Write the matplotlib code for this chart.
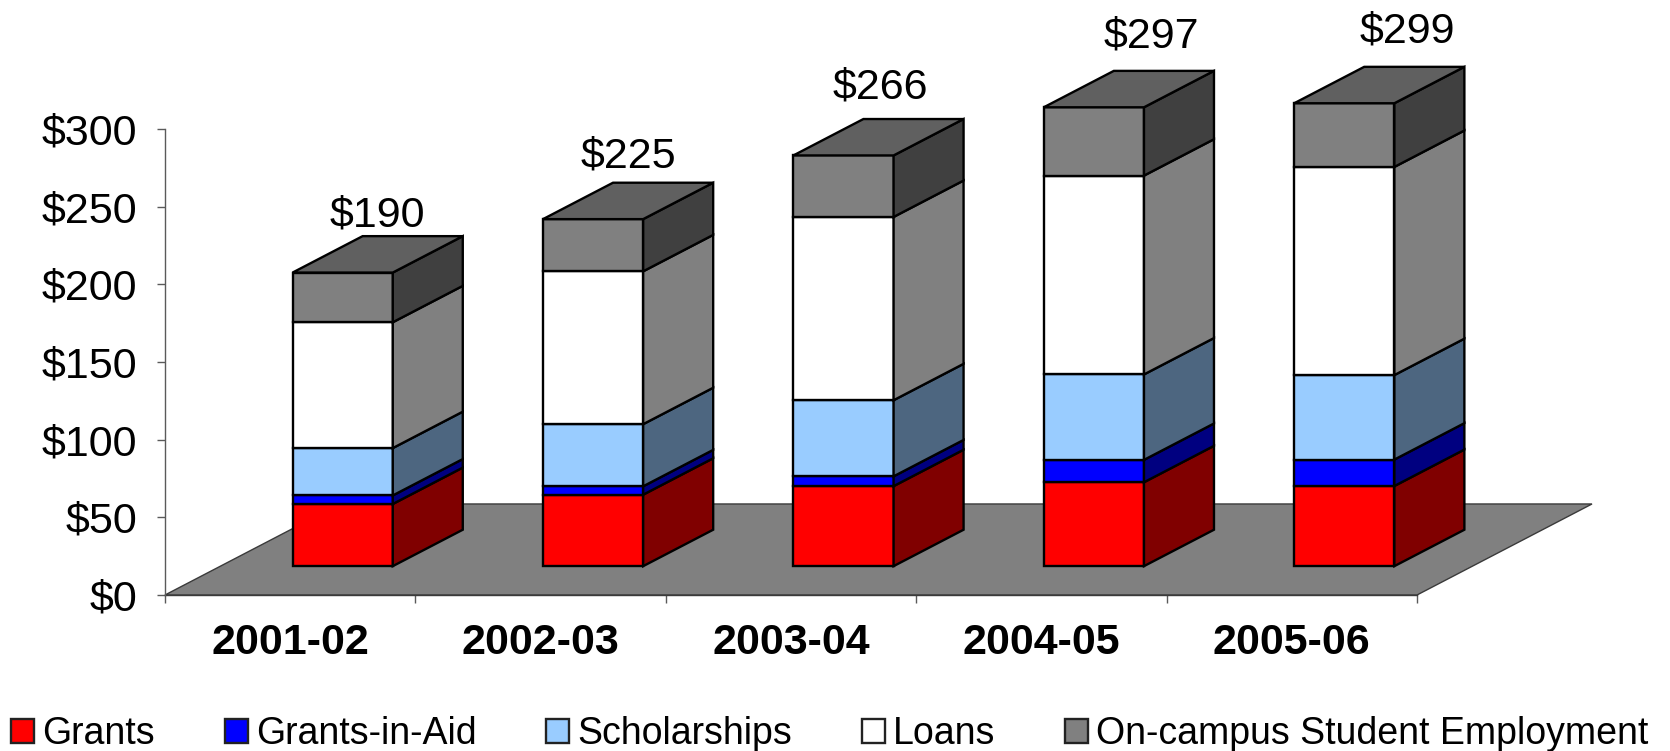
import matplotlib
matplotlib.use("Agg")
import matplotlib.pyplot as plt
from matplotlib.patches import Polygon, Patch
import numpy as np

plt.rcParams['font.family'] = ['Liberation Sans', 'DejaVu Sans']

# ---- data ----
years = ["2001-02", "2002-03", "2003-04", "2004-05", "2005-06"]
series_names = ["Grants", "Grants-in-Aid", "Scholarships", "Loans", "On-campus Student Employment"]
grants = [40, 46, 51.5, 54, 51.6]
grants_in_aid = [5.5, 5.4, 6.3, 14.4, 17]
scholarships = [30.5, 40, 49, 55, 54.4]
loans = [81, 98.4, 118, 128, 134]
employment = [32, 33.6, 39.6, 44, 41]
totals = [190, 225, 266, 297, 299]
y_ticks = [0, 50, 100, 150, 200, 250, 300]

# ---- style ----
front_colors = ["#FF0000", "#0000FF", "#99CCFF", "#FFFFFF", "#808080"]
side_colors = ["#800000", "#000080", "#4D6680", "#808080", "#404040"]
top_color = "#606060"
floor_color = "#808080"
axis_color = "#5A5A5A"

W, H = 1670, 751
fig = plt.figure(figsize=(W / 100, H / 100), dpi=100)
ax = fig.add_axes([165 / W, (H - 595) / H, 1252 / W, 466 / H])
ax.set_xlim(0, 5)
ax.set_ylim(0, 300)

# oblique projection: depth 0..1 maps to an offset in data units
DX, DY = 175 / 250.4, 58.6
def proj(x, v, d):
    return (x + d * DX, v + d * DY)

# floor
ax.add_patch(Polygon([proj(0, 0, 0), proj(5, 0, 0), proj(5, 0, 1), proj(0, 0, 1)],
                     closed=True, facecolor=floor_color, edgecolor="#3A3A3A",
                     linewidth=1.0, clip_on=False, zorder=1))

bar_w = 0.4
d0, d1 = 0.3, 0.7
base_lift = 1.0
stack = np.array([grants, grants_in_aid, scholarships, loans, employment], dtype=float)
bottoms = np.vstack([np.zeros(len(years)), np.cumsum(stack, axis=0)[:-1]]) + base_lift
centers = np.arange(len(years)) + 0.5
edge = dict(edgecolor="black", linewidth=1.7, clip_on=False, joinstyle="miter")

for s in range(stack.shape[0]):
    fx, _ = proj(centers, 0, d0)
    _, fb = proj(0, bottoms[s], d0)
    ax.bar(fx, stack[s], width=bar_w, bottom=fb, color=front_colors[s], zorder=3, **edge)
    for i in range(len(years)):
        xr = centers[i] + bar_w / 2
        b, t = bottoms[s][i], bottoms[s][i] + stack[s][i]
        ax.add_patch(Polygon([proj(xr, b, d0), proj(xr, b, d1), proj(xr, t, d1), proj(xr, t, d0)],
                             closed=True, facecolor=side_colors[s], zorder=3, **edge))

tops = stack.sum(axis=0) + base_lift
label_nudge = [(0, -3), (0, -3), (2, -3), (22, -4), (28, -3)]
for i in range(len(years)):
    xl, xr = centers[i] - bar_w / 2, centers[i] + bar_w / 2
    ax.add_patch(Polygon([proj(xl, tops[i], d0), proj(xr, tops[i], d0),
                          proj(xr, tops[i], d1), proj(xl, tops[i], d1)],
                         closed=True, facecolor=top_color, zorder=3, **edge))
    px, _ = proj(centers[i], 0, 0.5)
    ax.annotate(f"${totals[i]}", xy=(px, 1.087 * totals[i] + 39.5), xycoords="data",
                xytext=(label_nudge[i][0] * 0.72, label_nudge[i][1] * 0.72), textcoords="offset points",
                ha="center", va="center", fontsize=31, color="black",
                annotation_clip=False, zorder=5)

# axes
for sp in ("top", "right"):
    ax.spines[sp].set_visible(False)
ax.spines["left"].set_color(axis_color)
ax.spines["left"].set_linewidth(1.0)
ax.spines["bottom"].set_color("#3A3A3A")
ax.spines["bottom"].set_linewidth(1.0)
ax.spines["bottom"].set_zorder(2)
ax.set_yticks(y_ticks)
ax.set_yticklabels([f"${v}" for v in y_ticks], fontsize=31)
ax.tick_params(axis="y", length=6, width=1.0, color=axis_color, pad=14)
ax.set_xticks(np.arange(len(years) + 1))
ax.set_xticklabels([])
ax.tick_params(axis="x", which="major", length=6, width=1.0, color=axis_color)
ax.set_xticks(centers, minor=True)
ax.set_xticklabels(years, minor=True, fontsize=31, fontweight="bold")
ax.tick_params(axis="x", which="minor", length=0, pad=20)
ax.patch.set_alpha(0)

# legend
handles = [Patch(facecolor=c, edgecolor="#222222", linewidth=1.7) for c in front_colors]
fig.legend(handles, series_names, loc="lower left", ncol=5, frameon=False,
           bbox_to_anchor=(11 / W, -1 / H), borderaxespad=0, borderpad=0,
           fontsize=27, handlelength=0.62, handleheight=0.62, handletextpad=0.22,
           columnspacing=1.85)

fig.savefig("out.png", dpi=100, facecolor="white")
